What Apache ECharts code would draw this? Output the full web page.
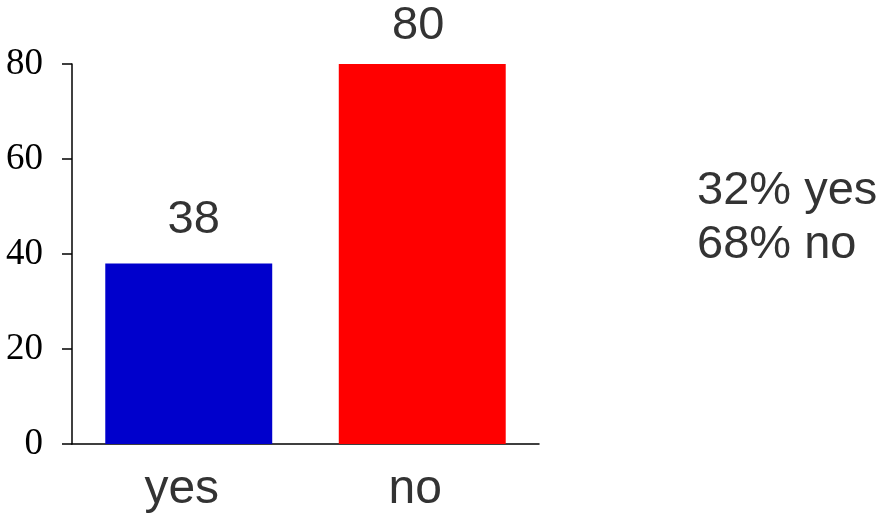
<!DOCTYPE html>
<html>
<head>
<meta charset="utf-8">
<script src="https://cdn.jsdelivr.net/npm/echarts@6/dist/echarts.min.js"></script>
<style>html,body{margin:0;padding:0;background:#fff;}#c{width:885px;height:520px;}</style>
</head>
<body>
<div id="c"></div>
<script>
const categories = ['yes', 'no'];
const values = [38, 80];
const barColors = ['#0000CC', '#FF0000'];
const yTicks = [0, 20, 40, 60, 80];

const total = values.reduce((a, b) => a + b, 0);
const summary = categories.map((c, i) => Math.round(values[i] / total * 100) + '% ' + c).join('\n');

const labelOffsets = [[5, -4], [-4, 2]];

const chart = echarts.init(document.getElementById('c'));
chart.setOption({
  animation: false,
  backgroundColor: '#ffffff',
  grid: { left: 72, right: 346, top: 64, bottom: 76, containLabel: false },
  xAxis: {
    type: 'category',
    data: categories,
    axisLine: { lineStyle: { color: '#000', width: 1.5 } },
    axisTick: { inside: true, length: 10, lineStyle: { color: '#000', width: 1.5 } },
    axisLabel: { fontFamily: 'Liberation Sans', fontSize: 48, color: '#333333', margin: 22, padding: [0, 14, 0, 0] }
  },
  yAxis: {
    type: 'value',
    min: yTicks[0],
    max: yTicks[yTicks.length - 1],
    interval: yTicks[1] - yTicks[0],
    splitLine: { show: false },
    axisLine: { show: true, lineStyle: { color: '#000', width: 1.5 } },
    axisTick: { show: true, length: 10, lineStyle: { color: '#000', width: 1.5 } },
    axisLabel: { fontFamily: 'Liberation Serif', fontSize: 37, color: '#000', margin: 29 }
  },
  series: [{
    type: 'bar',
    data: values.map((v, i) => ({ value: v, itemStyle: { color: barColors[i] }, label: { offset: labelOffsets[i] } })),
    barWidth: '71.5%',
    label: { show: true, position: 'top', distance: 16, fontFamily: 'Liberation Sans', fontSize: 47, color: '#333333' }
  }],
  graphic: [{
    type: 'text',
    left: 697,
    top: 164,
    style: { text: summary, font: '47px "Liberation Sans"', fill: '#333333', lineHeight: 54 }
  }]
});
</script>
</body>
</html>
